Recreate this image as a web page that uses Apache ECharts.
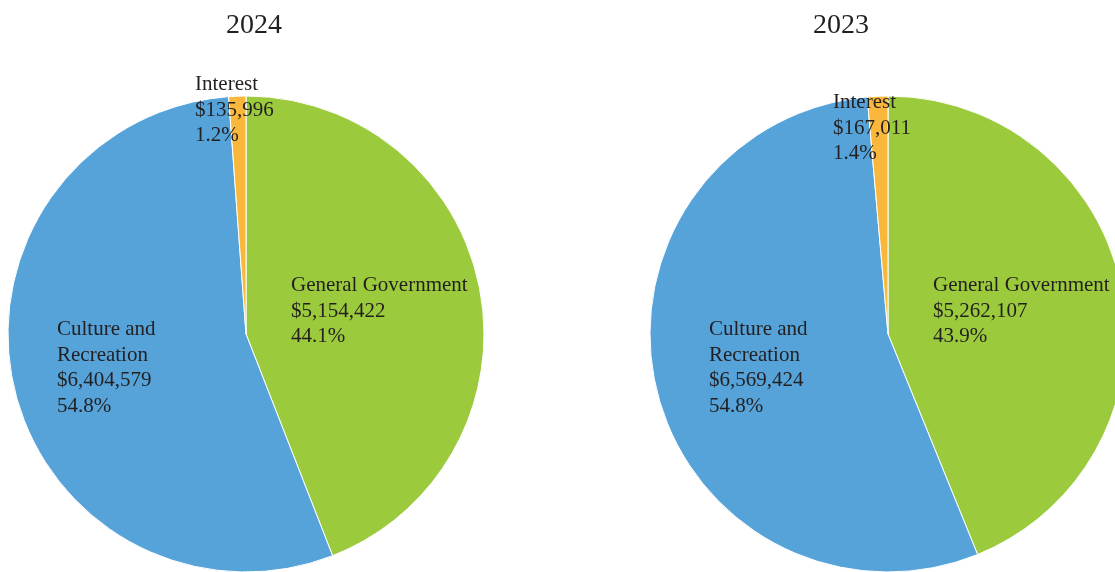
<!DOCTYPE html>
<html>
<head>
<meta charset="utf-8">
<script src="https://cdn.jsdelivr.net/npm/echarts@6/dist/echarts.min.js"></script>
<style>
html,body{margin:0;padding:0;background:#fff;}
#main{width:1115px;height:572px;}
</style>
</head>
<body>
<div id="main"></div>
<script>
const categories = ['General Government', 'Culture and\nRecreation', 'Interest'];
const years = ['2024', '2023'];
const values2024 = [5154422, 6404579, 135996];
const values2023 = [5262107, 6569424, 167011];
const colors = ['#9BCA3C', '#55A3D9', '#F9B83B'];

const FONT = '"Liberation Serif", "Times New Roman", serif';
const chart = echarts.init(document.getElementById('main'), null, {renderer: 'canvas'});

function fmtMoney(v) {
  return '$' + v.toString().replace(/\B(?=(\d{3})+(?!\d))/g, ',');
}

// label anchor positions (top-left of text blocks), per pie
const labelPos = [
  [[291, 273], [57, 317], [195, 72]],
  [[933, 273], [709, 317], [833, 90]]
];

function makeSeries(idx, values, cx) {
  const total = values.reduce((a, b) => a + b, 0);
  return {
    type: 'pie',
    center: [cx, 334],
    radius: [0, 238],
    startAngle: 90,
    clockwise: true,
    silent: true,
    animation: false,
    itemStyle: {borderColor: '#ffffff', borderWidth: 1},
    label: {
      show: true,
      position: 'inside',
      color: '#231F20',
      fontFamily: FONT,
      fontSize: 21,
      lineHeight: 25.5,
      align: 'left',
      formatter: function (p) {
        return p.name + '\n' + fmtMoney(p.value) + '\n' + (p.value / total * 100).toFixed(1) + '%';
      }
    },
    labelLine: {show: false},
    labelLayout: function (params) {
      const pos = labelPos[idx][params.dataIndex];
      return {x: pos[0], y: pos[1], align: 'left', verticalAlign: 'top'};
    },
    emphasis: {disabled: true},
    data: categories.map((c, i) => ({name: c, value: values[i], itemStyle: {color: colors[i]}}))
  };
}

chart.setOption({
  backgroundColor: '#ffffff',
  animation: false,
  title: [
    {text: years[0], left: 249, top: 7, textAlign: 'center',
     textStyle: {fontFamily: FONT, fontSize: 28, fontWeight: 'normal', color: '#231F20'}},
    {text: years[1], left: 836, top: 7, textAlign: 'center',
     textStyle: {fontFamily: FONT, fontSize: 28, fontWeight: 'normal', color: '#231F20'}}
  ],
  series: [
    makeSeries(0, values2024, 246),
    makeSeries(1, values2023, 888)
  ]
});
</script>
</body>
</html>
